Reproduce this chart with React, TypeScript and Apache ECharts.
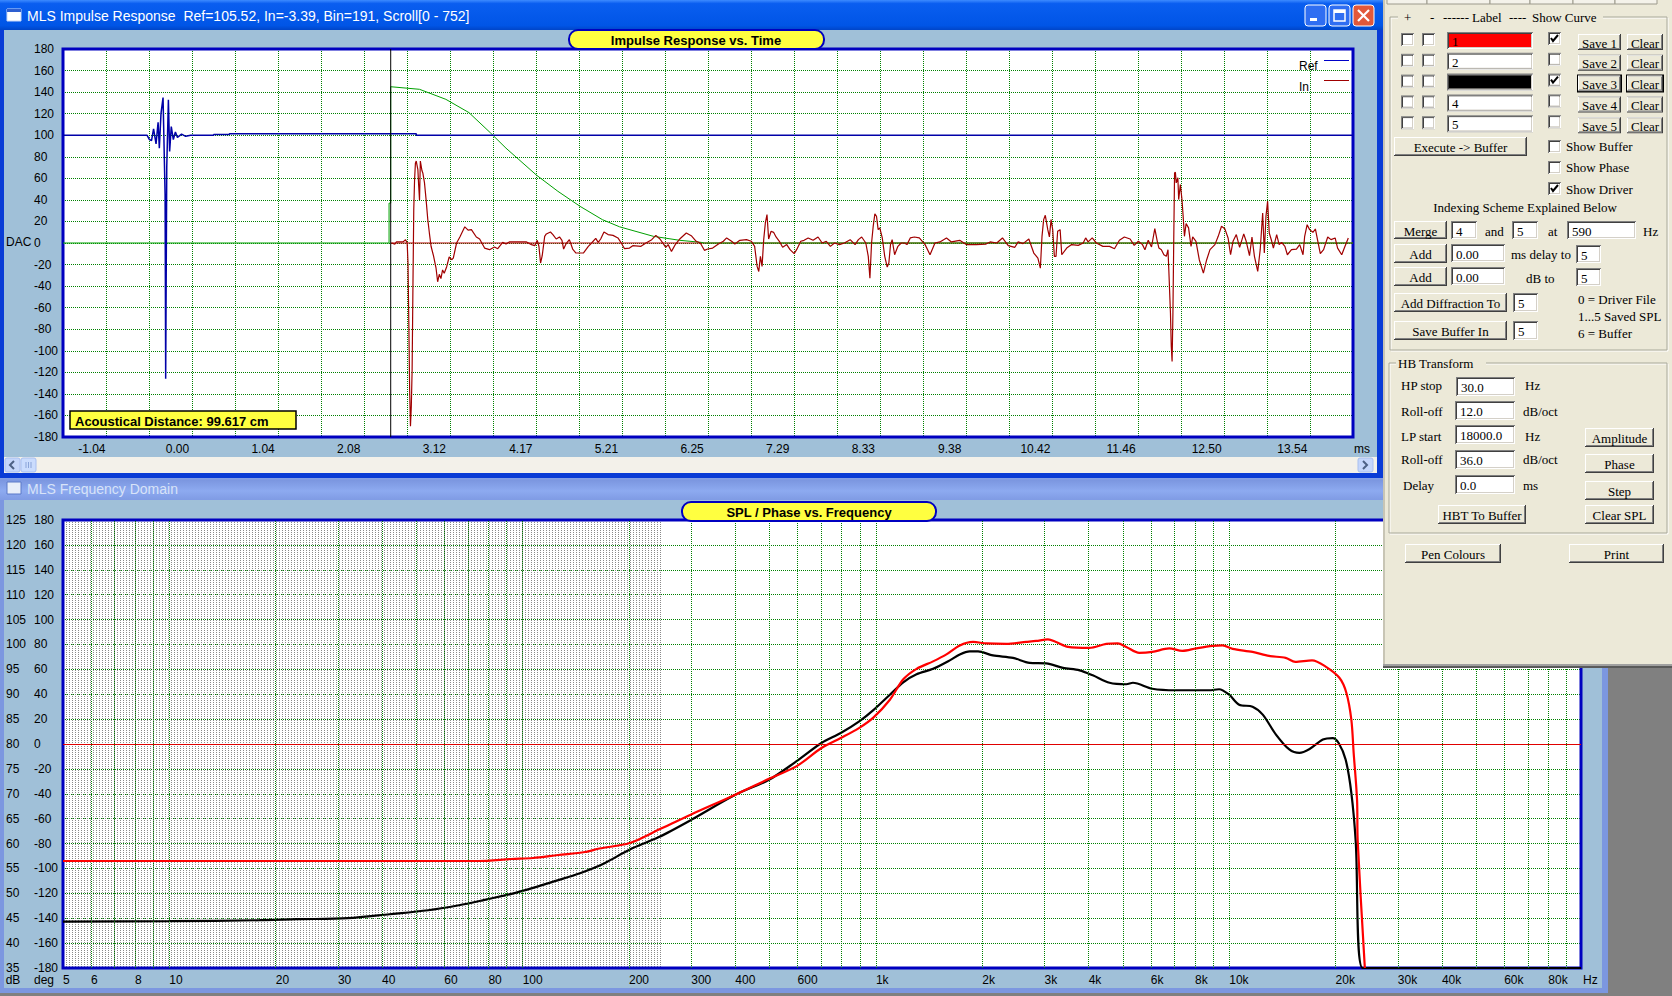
import React, { useEffect, useRef } from "react";
import * as echarts from "echarts";

const SANS = '"Liberation Sans", Arial, Helvetica, sans-serif';
const SERIF = '"Liberation Serif", "Times New Roman", serif';

// ---------------- Impulse response (time in ms, DAC units) ----------------
const timeMin = -1.39;
const timeMax = 14.277;
const impulseTicks = [-1.04, 0.0, 1.04, 2.08, 3.12, 4.17, 5.21, 6.25, 7.29, 8.33, 9.38, 10.42, 11.46, 12.5, 13.54];
const markerTime = 2.59;

const refTrace: [number, number][] = [
  [-1.39, 100], [-0.37, 100], [-0.34, 96], [-0.315, 95], [-0.29, 106], [-0.26, 92], [-0.235, 112],
  [-0.22, 88], [-0.2, 120], [-0.175, 135], [-0.15, 45], [-0.143, -126], [-0.13, 70], [-0.11, 133],
  [-0.095, 85], [-0.075, 108], [-0.05, 96], [-0.025, 103], [0.0, 98], [0.05, 101], [0.1, 99],
  [0.16, 100], [0.44, 100], [0.44, 100.7], [0.63, 100.7], [0.63, 101.4], [2.9, 101.4], [2.9, 100],
  [14.277, 100],
];

const windowTrace: [number, number][] = [
  [-1.39, 0], [2.57, 0], [2.57, 37], [2.59, 37], [2.59, 145], [2.94, 142.6], [3.26, 133.3],
  [3.54, 121], [3.8, 102.3], [3.99, 88], [4.36, 63], [4.62, 48], [4.89, 34], [5.16, 21.7],
  [5.37, 15], [5.78, 6.2], [6.1, 2.5], [6.36, 0.6], [6.4, 0], [14.277, 0],
];

const zeroTrace: [number, number][] = [[2.59, 0], [14.277, 0]];

const inTrace: [number, number][] = [
  [2.6, 0], [2.64, -1], [2.66, 1], [2.74, 1], [2.77, 3], [2.79, 0], [2.8, -18.6], [2.81, -74],
  [2.82, -136], [2.83, -170], [2.84, -152], [2.85, -118], [2.86, -40], [2.87, 31], [2.88, 59],
  [2.89, 74], [2.9, 76], [2.92, 68], [2.93, 53], [2.94, 40], [2.95, 76], [2.97, 67], [2.98, 65],
  [3.0, 56], [3.02, 40], [3.04, 22], [3.06, 9], [3.08, -3], [3.11, -12], [3.14, -23], [3.16, -36],
  [3.18, -29], [3.2, -33], [3.22, -25], [3.24, -28], [3.27, -22], [3.3, -13], [3.33, -15.5],
  [3.35, -14], [3.39, 0], [3.43, 5.6], [3.49, 15], [3.53, 12], [3.57, 12.4], [3.63, 5.6],
  [3.67, 3.7], [3.73, -4.7], [3.79, -6.2], [3.85, -3.7], [3.89, -5.3], [3.95, 0.6], [3.99, -1],
  [4.03, 1], [4.24, 1], [4.3, -1.5], [4.34, -2.5], [4.37, 2.5], [4.39, -3], [4.41, -18.6],
  [4.43, -11.8], [4.46, 6.2], [4.48, 8.4], [4.53, 10.2], [4.56, 7.8], [4.6, 3.7], [4.64, 5.6],
  [4.67, 2.5], [4.69, -5.6], [4.72, -0.6], [4.76, 3.1], [4.8, -5.6], [4.84, -9.3], [4.93, -9.3],
  [4.99, -3.1], [5.03, 0], [5.08, 4.3], [5.11, 0.6], [5.14, 3.7], [5.18, 10.2], [5.23, 7.8],
  [5.29, 7.1], [5.35, 4.7], [5.39, 0], [5.43, -5.3], [5.49, -4.7], [5.53, -2.5], [5.63, -3.1],
  [5.69, 0], [5.76, 3.1], [5.81, 7.1], [5.86, 3.7], [5.9, -0.6], [5.93, -4], [5.96, -1.5],
  [6.0, -7.8], [6.05, -1], [6.1, 3.7], [6.18, 9.3], [6.24, 6.8], [6.3, 1.6], [6.35, 0],
  [6.4, -6.8], [6.44, -5.6], [6.5, -4.7], [6.57, -1], [6.63, 1.6], [6.67, 4.7], [6.73, 1.6],
  [6.77, -1], [6.83, 2.5], [6.91, 3.1], [6.97, 1.6], [7.01, -3.1], [7.04, -21.7], [7.06, -26.4],
  [7.08, -12.4], [7.1, -21.7], [7.12, 3.1], [7.14, 18.6], [7.16, 26.4], [7.18, 3.7], [7.21, 10.9],
  [7.24, 9.9], [7.27, 5.6], [7.31, 1.6], [7.35, -4], [7.4, -1.5], [7.44, -6.2], [7.49, -9.9],
  [7.52, -6.2], [7.57, 1.6], [7.61, 2.5], [7.66, 4.7], [7.72, 2.5], [7.78, 5.6], [7.83, 0],
  [7.88, 1.6], [7.93, -3.1], [7.98, 0], [8.04, -1.5], [8.1, 0], [8.17, 3.1], [8.23, -1.5],
  [8.27, 3.1], [8.31, 5.6], [8.36, 0], [8.39, -12.4], [8.41, -32.6], [8.43, 0], [8.45, 15.5],
  [8.47, 27], [8.49, 24.8], [8.51, 12.4], [8.53, 14], [8.56, 4.7], [8.59, -12.4], [8.62, -22.3],
  [8.64, -18.6], [8.66, -1.5], [8.68, 3.1], [8.71, -10.9], [8.75, -3.1], [8.79, 0], [8.83, 0],
  [8.86, -1.5], [8.9, 4.7], [8.95, 5.6], [9.01, 4.7], [9.08, -1.5], [9.14, -10.9], [9.2, 0],
  [9.26, 1], [9.34, 4.7], [9.4, 1], [9.5, 2.5], [9.58, -1.5], [9.7, -1.5], [9.82, -1], [9.87, 1],
  [9.95, 0], [10.02, 4.7], [10.09, -2.5], [10.17, -4], [10.21, 1], [10.27, -0.6], [10.34, 3.7],
  [10.4, -9.3], [10.45, -14], [10.48, -23.3], [10.5, 6.2], [10.52, 21.7], [10.54, 25.7],
  [10.57, 12.4], [10.59, 5.6], [10.61, 21.7], [10.63, 12.4], [10.65, -12.4], [10.67, -12.4],
  [10.69, 10.9], [10.72, 12.4], [10.74, -10.9], [10.8, -4.7], [10.86, -1.5], [10.94, -2.2],
  [11.0, 0], [11.03, 4.7], [11.06, 1], [11.11, 4.7], [11.16, 0], [11.24, -3.1], [11.32, -3.1],
  [11.38, -5.3], [11.44, 2.5], [11.5, 5.6], [11.57, 3.7], [11.62, -2.2], [11.67, 1.6],
  [11.72, -1.5], [11.75, -6.2], [11.79, 2.5], [11.83, -3.7], [11.87, 13.3], [11.9, 1.6],
  [11.92, -4.7], [11.95, -6.2], [11.98, -10.9], [12.01, -12.4], [12.03, -6.2], [12.04, -24.8],
  [12.06, -65], [12.07, -96], [12.08, -110], [12.09, -65], [12.1, 3.1], [12.11, 65], [12.12, 65.7],
  [12.13, 55.8], [12.15, 60.5], [12.16, 40.3], [12.18, 54.3], [12.2, 40.3], [12.21, 29.5],
  [12.23, 6.2], [12.25, 18], [12.28, 14], [12.31, -3.1], [12.33, 5.6], [12.37, 1.6], [12.41, -15.5],
  [12.46, -27.9], [12.5, -15.5], [12.54, -6.2], [12.6, -1.5], [12.64, 6.2], [12.68, 15.5],
  [12.72, 13.3], [12.76, 4.7], [12.79, -10.9], [12.82, 1.6], [12.86, 7.8], [12.9, -4], [12.95, 8.4],
  [12.98, 1.6], [13.02, -11.8], [13.05, 5.6], [13.08, -12.4], [13.12, -26.4], [13.15, -6.2],
  [13.18, 27.9], [13.2, -9.3], [13.22, 24.8], [13.24, 38.8], [13.26, 9.3], [13.29, 1.6],
  [13.31, -4.7], [13.35, 7.8], [13.38, -1.5], [13.41, 0.6], [13.45, -3.1], [13.48, -10.9],
  [13.53, -6.2], [13.59, -5.6], [13.63, -1.5], [13.67, -10.9], [13.69, 6.2], [13.72, 17],
  [13.75, 12.4], [13.79, 9.9], [13.82, 13], [13.85, 1.6], [13.88, -9.9], [13.92, -6.2],
  [13.97, 5.6], [14.01, 3.1], [14.06, 4.7], [14.09, -4.7], [14.14, -10.9], [14.18, -3.1],
  [14.22, 4.7],
];

// ---------------- Frequency domain (Hz, dB / deg) ----------------
const freqMin = 5;
const freqMax = 99000;
const freqTicks = [5, 6, 8, 10, 20, 30, 40, 60, 80, 100, 200, 300, 400, 600, 1000, 2000, 3000, 4000, 6000, 8000, 10000, 20000, 30000, 40000, 60000, 80000];
const freqGrid = [6, 7, 8, 9, 10, 20, 30, 40, 50, 60, 70, 80, 90, 100, 200, 300, 400, 500, 600, 700, 800, 900,
  1000, 2000, 3000, 4000, 5000, 6000, 7000, 8000, 9000, 10000, 20000, 30000, 40000, 50000, 60000, 70000, 80000, 90000];
const phaseZeroDb = 80;

const splCurve1: [number, number][] = [
  [5, 56.5], [10, 56.5], [30, 56.5], [75, 56.5], [93, 56.9], [107, 57.1], [126, 57.7], [150, 58.3],
  [165, 59.0], [201, 60.1], [243, 62.8], [299, 65.8], [400, 69.8], [498, 73.0], [595, 75.5],
  [701, 79.2], [795, 81.2], [895, 83.2], [983, 85.3], [1095, 88.9], [1195, 93.0], [1303, 95.1],
  [1451, 96.6], [1583, 98.0], [1727, 99.8], [1883, 100.5], [2055, 100.2], [2337, 100.1],
  [2663, 100.5], [2842, 100.7], [3067, 101.0], [3235, 100.5], [3495, 99.5], [4020, 99.3],
  [4487, 100.1], [4835, 100.2], [5111, 99.5], [5564, 98.3], [6060, 98.5], [6762, 99.2],
  [7369, 98.7], [8060, 99.2], [8972, 99.7], [9576, 99.8], [10220, 99.1], [11640, 98.5],
  [12960, 97.7], [14440, 97.3], [15380, 96.5], [17150, 96.8], [18700, 95.6], [20500, 93.3],
  [21450, 90.3], [22160, 84.9], [22500, 78.2], [23000, 68.8], [23100, 60.5], [24200, 35],
];

const splCurve3: [number, number][] = [
  [5, 44.3], [10, 44.4], [18, 44.6], [23, 44.8], [32, 45.0], [42, 45.8], [54, 46.6], [66, 47.6],
  [76, 48.5], [93, 49.9], [107, 51.1], [124, 52.5], [146, 54.1], [170, 56.0], [201, 58.8],
  [243, 61.3], [299, 64.7], [400, 69.8], [498, 72.8], [595, 76.5], [701, 80.2], [795, 82.2],
  [899, 84.6], [983, 86.8], [1095, 89.9], [1195, 92.4], [1303, 94.0], [1451, 95.1], [1618, 96.8],
  [1727, 98.0], [1843, 98.6], [1945, 98.6], [2143, 97.8], [2443, 97.3], [2722, 96.3],
  [3033, 96.2], [3383, 95.3], [3770, 94.8], [4108, 93.8], [4585, 92.3], [5111, 92.0],
  [5337, 92.3], [6060, 91.1], [7062, 90.8], [8768, 90.8], [9360, 91.0], [9993, 89.9],
  [10670, 87.9], [11640, 87.5], [12440, 85.9], [13560, 81.9], [14790, 78.9], [15800, 78.2],
  [16880, 79.0], [18410, 80.9], [19630, 81.2], [20400, 80.2], [21350, 76.9], [22160, 70.2],
  [22800, 60.5], [23850, 35], [99000, 35],
];

// ---------------- graphic helpers ----------------
let zc = 0;
function nz(base: number) {
  zc += 1;
  return base + zc * 0.0005;
}
function rect(x: number, y: number, w: number, h: number, fill: any, base: number, extra: any = {}, r?: number) {
  const shape: any = { x, y, width: w, height: h };
  if (r) shape.r = r;
  return { type: "rect", shape, style: { fill, ...extra }, z: nz(base), silent: true };
}
function text(x: number, y: number, s: string, font: string, fill: string, align: string, base: number) {
  return {
    type: "text", x, y, z: nz(base), silent: true,
    style: { text: s, font, fill, textAlign: align, textVerticalAlign: "middle", align, verticalAlign: "middle" },
  };
}
function line(x1: number, y1: number, x2: number, y2: number, stroke: string, w: number, base: number) {
  return { type: "line", shape: { x1, y1, x2, y2 }, style: { stroke, lineWidth: w }, z: nz(base), silent: true };
}

const PZ = 20;
const pFont = `13px ${SERIF}`;
function pText(x: number, y: number, s: string, align = "left") {
  return text(x, y, s, pFont, "#000", align, PZ);
}
function button(x: number, y: number, w: number, h: number, label: string, focus = false) {
  const a: any[] = [];
  if (focus) a.push(rect(x - 1, y - 1, w + 2, h + 2, "#000", PZ));
  a.push(rect(x, y, w, h, "#404040", PZ));
  a.push(rect(x, y, w - 1, h - 1, "#ffffff", PZ));
  a.push(rect(x + 1, y + 1, w - 2, h - 2, "#808080", PZ));
  a.push(rect(x + 1, y + 1, w - 3, h - 3, "#ECE9D8", PZ));
  a.push(pText(x + w / 2, y + h / 2 + 1, label, "center"));
  return a;
}
function edit(x: number, y: number, w: number, h: number, s: string, fill = "#ffffff") {
  const a: any[] = [
    rect(x, y, w, h, "#808080", PZ),
    rect(x + 1, y + 1, w - 1, h - 1, "#ffffff", PZ),
    rect(x + 1, y + 1, w - 2, h - 2, "#404040", PZ),
    rect(x + 2, y + 2, w - 3, h - 3, "#D4D0C8", PZ),
    rect(x + 2, y + 2, w - 4, h - 4, fill, PZ),
  ];
  if (s) a.push(pText(x + 5, y + h / 2 + 1, s));
  return a;
}
function check(x: number, y: number, checked: boolean) {
  const a = edit(x, y, 13, 13, "");
  if (checked) {
    a.push({
      type: "polyline", shape: { points: [[x + 3, y + 6], [x + 5, y + 9], [x + 10, y + 3]] },
      style: { stroke: "#000", lineWidth: 2, fill: "none" }, z: nz(PZ), silent: true,
    });
  }
  return a;
}
function groupBox(x: number, y: number, w: number, h: number) {
  return [
    rect(x + 1, y + 1, w, h, "none", PZ, { stroke: "#ffffff", lineWidth: 1 }),
    rect(x, y, w, h, "none", PZ, { stroke: "#A9A89A", lineWidth: 1 }),
  ];
}

function buildGraphics() {
  const g: any[] = [];
  const CZ = -10;
  // lower window frame + title bar
  g.push(rect(0, 476, 1608, 517, "#7C97E0", CZ));
  g.push(rect(0, 477, 1608, 23, new echarts.graphic.LinearGradient(0, 0, 0, 1, [
    { offset: 0, color: "#8AA4EA" }, { offset: 0.15, color: "#7C97E0" }, { offset: 0.6, color: "#8DAAF0" }, { offset: 1, color: "#7F9BE4" },
  ]), CZ));
  g.push(rect(4, 500, 1598, 488, "#A0C0D8", CZ));
  g.push(rect(7, 482, 14, 12, "#E8EEF9", CZ, { stroke: "#5A78C8", lineWidth: 1 }));
  g.push(text(27, 489, "MLS Frequency Domain", `14px ${SANS}`, "#D8E3F8", "left", CZ));

  // upper window frame + title bar
  g.push(rect(0, 0, 1384, 478, "#0A3CD6", CZ));
  g.push(rect(0, 0, 1384, 30, new echarts.graphic.LinearGradient(0, 0, 0, 1, [
    { offset: 0, color: "#3D8BFF" }, { offset: 0.12, color: "#0A5EF0" }, { offset: 0.85, color: "#0055E6" }, { offset: 1, color: "#0045C8" },
  ]), CZ));
  g.push(rect(4, 30, 1373, 427, "#A0C0D8", CZ));
  g.push(rect(7, 9, 14, 12, "#ffffff", CZ, { stroke: "#C8D8F8", lineWidth: 1 }));
  g.push(rect(7, 9, 14, 3, "#2E5FD0", CZ));
  g.push(text(27, 16, "MLS Impulse Response  Ref=105.52, In=-3.39, Bin=191, Scroll[0 - 752]", `14px ${SANS}`, "#ffffff", "left", CZ));
  // caption buttons
  g.push(rect(1305, 5, 21, 21, "#2F6EF2", CZ, { stroke: "#ffffff", lineWidth: 1 }, 3));
  g.push(rect(1310, 18, 7, 3, "#ffffff", CZ));
  g.push(rect(1329, 5, 21, 21, "#2F6EF2", CZ, { stroke: "#ffffff", lineWidth: 1 }, 3));
  g.push(rect(1334, 10, 11, 11, "none", CZ, { stroke: "#ffffff", lineWidth: 1.5 }));
  g.push(rect(1334, 10, 11, 3, "#ffffff", CZ));
  g.push(rect(1353, 5, 21, 21, "#E2583A", CZ, { stroke: "#ffffff", lineWidth: 1 }, 3));
  g.push(line(1358, 10, 1369, 21, "#ffffff", 2.2, CZ));
  g.push(line(1369, 10, 1358, 21, "#ffffff", 2.2, CZ));
  // scrollbar
  g.push(rect(4, 457, 1373, 16, "#F3F1EA", CZ));
  g.push(rect(5, 458, 15, 14, "#C5D6FB", CZ, { stroke: "#A8BFF0", lineWidth: 1 }, 2));
  g.push({ type: "polyline", shape: { points: [[14, 461], [10, 465], [14, 469]] }, style: { stroke: "#4D6185", lineWidth: 2, fill: "none" }, z: nz(CZ), silent: true });
  g.push(rect(21, 458, 15, 14, "#CADCFD", CZ, { stroke: "#A8BFF0", lineWidth: 1 }, 2));
  g.push(line(26, 462, 26, 468, "#8AA4D8", 1, CZ));
  g.push(line(28.5, 462, 28.5, 468, "#8AA4D8", 1, CZ));
  g.push(line(31, 462, 31, 468, "#8AA4D8", 1, CZ));
  g.push(rect(1358, 458, 15, 14, "#C5D6FB", CZ, { stroke: "#A8BFF0", lineWidth: 1 }, 2));
  g.push({ type: "polyline", shape: { points: [[1363, 461], [1367, 465], [1363, 469]] }, style: { stroke: "#4D6185", lineWidth: 2, fill: "none" }, z: nz(CZ), silent: true });

  // plot borders
  g.push(rect(63, 49, 1290, 388, "none", 2, { stroke: "#0000C0", lineWidth: 3 }));
  g.push(rect(63, 520, 1518, 448, "none", 2, { stroke: "#0000C0", lineWidth: 3 }));

  // badges and overlays
  const OZ = 8;
  g.push(rect(569, 30, 255, 19, "#FFFF40", OZ, { stroke: "#0000C0", lineWidth: 2 }, 9));
  g.push(text(696, 40, "Impulse Response vs. Time", `bold 13px ${SANS}`, "#000", "center", OZ));
  g.push(rect(682, 502, 254, 19, "#FFFF40", OZ, { stroke: "#0000C0", lineWidth: 2 }, 9));
  g.push(text(809, 512, "SPL / Phase vs. Frequency", `bold 13px ${SANS}`, "#000", "center", OZ));
  g.push(rect(70, 411, 226, 18, "#FFFF40", OZ, { stroke: "#000", lineWidth: 1.5 }));
  g.push(text(75, 421, "Acoustical Distance: 99.617 cm", `bold 13px ${SANS}`, "#000", "left", OZ));
  // legend
  g.push(text(1299, 66, "Ref", `12px ${SANS}`, "#000", "left", OZ));
  g.push(line(1324, 60.5, 1349, 60.5, "#0000C8", 1, OZ));
  g.push(text(1299, 87, "In", `12px ${SANS}`, "#000", "left", OZ));
  g.push(line(1324, 80.5, 1349, 80.5, "#A00000", 1, OZ));
  // unit labels
  g.push(text(6, 242, "DAC", `12px ${SANS}`, "#000", "left", OZ));
  g.push(text(1354, 449, "ms", `12px ${SANS}`, "#000", "left", OZ));
  g.push(text(1583, 980, "Hz", `12px ${SANS}`, "#000", "left", OZ));
  g.push(text(13, 980, "dB", `12px ${SANS}`, "#000", "center", OZ));
  g.push(text(44, 980, "deg", `12px ${SANS}`, "#000", "center", OZ));

  // ---------------- right control panel ----------------
  g.push(rect(1383, 0, 289, 668, "#ECE9D8", PZ));
  g.push(rect(1383, 0, 2, 668, "#C8C5B5", PZ));
  g.push(rect(1383, 664, 289, 2, "#A0A0A0", PZ));
  g.push(rect(1383, 666, 289, 2, "#5A5A5A", PZ));
  [[1387, 1427], [1427, 1490], [1490, 1530], [1530, 1573], [1573, 1615], [1615, 1657]].forEach(([a, b]) => {
    g.push(rect(a, -4, b - a, 8, "#F4F2EA", PZ, { stroke: "#9C9A8C", lineWidth: 1 }));
  });

  g.push(...groupBox(1390, 17, 277, 333));
  g.push(rect(1398, 9, 205, 16, "#ECE9D8", PZ));
  g.push(pText(1404, 17, "+"));
  g.push(pText(1430, 17, "-"));
  g.push(pText(1443, 17, "------"));
  g.push(pText(1472, 17, "Label"));
  g.push(pText(1509, 17, "----"));
  g.push(pText(1532, 17, "Show Curve"));

  const rowLabels = ["1", "2", "", "4", "5"];
  const rowFill = ["#FF0000", "#ffffff", "#000000", "#ffffff", "#ffffff"];
  const rowShow = [true, false, true, false, false];
  for (let i = 0; i < 5; i++) {
    const y = 33 + i * 20.8;
    g.push(...check(1401, y, false));
    g.push(...check(1422, y, false));
    g.push(...edit(1447, y - 1, 86, 17, rowLabels[i], rowFill[i]));
    g.push(...check(1548, y - 1, rowShow[i]));
    g.push(...button(1578, y + 1, 43, 16, `Save ${i + 1}`, i === 2));
    g.push(...button(1627, y + 1, 36, 16, "Clear", i === 2));
  }
  g.push(...button(1394, 137, 133, 19, "Execute -> Buffer"));
  g.push(...check(1548, 140, false));
  g.push(pText(1566, 146, "Show Buffer"));
  g.push(...check(1548, 161, false));
  g.push(pText(1566, 167, "Show Phase"));
  g.push(...check(1548, 182, true));
  g.push(pText(1566, 189, "Show Driver"));
  g.push(pText(1525, 207, "Indexing Scheme Explained Below", "center"));

  g.push(...button(1394, 221, 53, 18, "Merge"));
  g.push(...edit(1451, 221, 26, 18, "4"));
  g.push(pText(1485, 231, "and"));
  g.push(...edit(1512, 221, 26, 18, "5"));
  g.push(pText(1548, 231, "at"));
  g.push(...edit(1567, 221, 69, 18, "590"));
  g.push(pText(1643, 231, "Hz"));

  g.push(...button(1394, 244, 53, 19, "Add"));
  g.push(...edit(1451, 244, 54, 18, "0.00"));
  g.push(pText(1511, 254, "ms delay to"));
  g.push(...edit(1576, 245, 25, 18, "5"));

  g.push(...button(1394, 267, 53, 19, "Add"));
  g.push(...edit(1451, 267, 54, 18, "0.00"));
  g.push(pText(1526, 278, "dB to"));
  g.push(...edit(1576, 268, 25, 18, "5"));

  g.push(...button(1394, 293, 113, 19, "Add Diffraction To"));
  g.push(...edit(1513, 293, 25, 19, "5"));
  g.push(pText(1578, 299, "0 = Driver File"));
  g.push(...button(1394, 321, 113, 19, "Save Buffer In"));
  g.push(...edit(1513, 321, 25, 19, "5"));
  g.push(pText(1578, 316, "1...5 Saved SPL"));
  g.push(pText(1578, 333, "6 = Buffer"));

  g.push(...groupBox(1389, 363, 278, 170));
  g.push(rect(1396, 355, 90, 16, "#ECE9D8", PZ));
  g.push(pText(1398, 363, "HB Transform"));
  g.push(pText(1401, 385, "HP stop"));
  g.push(...edit(1456, 377, 59, 19, "30.0"));
  g.push(pText(1525, 385, "Hz"));
  g.push(pText(1401, 411, "Roll-off"));
  g.push(...edit(1455, 401, 60, 19, "12.0"));
  g.push(pText(1523, 411, "dB/oct"));
  g.push(pText(1401, 436, "LP start"));
  g.push(...edit(1455, 425, 60, 19, "18000.0"));
  g.push(pText(1525, 436, "Hz"));
  g.push(...button(1585, 428, 69, 19, "Amplitude"));
  g.push(pText(1401, 459, "Roll-off"));
  g.push(...edit(1455, 450, 60, 19, "36.0"));
  g.push(pText(1523, 459, "dB/oct"));
  g.push(...button(1585, 454, 69, 19, "Phase"));
  g.push(pText(1403, 485, "Delay"));
  g.push(...edit(1455, 475, 60, 19, "0.0"));
  g.push(pText(1523, 485, "ms"));
  g.push(...button(1585, 481, 69, 19, "Step"));
  g.push(...button(1438, 505, 88, 19, "HBT To Buffer"));
  g.push(...button(1585, 505, 69, 19, "Clear SPL"));
  g.push(...button(1405, 544, 96, 19, "Pen Colours"));
  g.push(...button(1569, 544, 95, 19, "Print"));
  return g;
}

function buildOption() {
  const axisFont = { color: "#000", fontFamily: SANS, fontSize: 12 };
  const green = { color: "#008000", type: "dotted", width: 1 };
  const noAxis = { axisLine: { show: false }, axisTick: { show: false } };
  return {
    animation: false,
    backgroundColor: "#808080",
    textStyle: { fontFamily: SANS },
    grid: [
      { left: 63, top: 49, width: 1290, height: 388, show: true, backgroundColor: "#ffffff", borderWidth: 0 },
      { left: 63, top: 520, width: 1518, height: 448, show: true, backgroundColor: "#ffffff", borderWidth: 0 },
      { left: 63, top: 520, width: 597, height: 448, show: false },
    ],
    xAxis: [
      {
        gridIndex: 0, type: "value", position: "bottom", min: timeMin, max: timeMax, ...noAxis, splitLine: { show: false },
        axisLabel: { ...axisFont, margin: 6, customValues: impulseTicks, formatter: (v: number) => v.toFixed(2) },
      },
      {
        gridIndex: 0, type: "value", position: "bottom", min: 0, max: 30, interval: 1, ...noAxis, axisLabel: { show: false },
        splitLine: { show: true, lineStyle: green },
      },
      {
        gridIndex: 1, type: "log", position: "bottom", logBase: 10, min: freqMin, max: freqMax, ...noAxis,
        axisLabel: { show: false }, splitLine: { show: false },
      },
      {
        gridIndex: 1, type: "value", position: "bottom", min: Math.log10(freqMin), max: Math.log10(freqMax), ...noAxis,
        splitLine: { show: false },
        axisLabel: {
          ...axisFont, margin: 6, align: "left", customValues: freqTicks.map((f) => Math.log10(f)),
          formatter: (v: number) => {
            const f = Math.round(Math.pow(10, v));
            return f >= 1000 ? `${f / 1000}k` : `${f}`;
          },
        },
      },
      {
        gridIndex: 2, type: "value", position: "bottom", min: 0, max: 199, interval: 1, ...noAxis, axisLabel: { show: false },
        splitLine: { show: true, lineStyle: { color: "#8A8A8A", type: "dotted", width: 1 } },
      },
    ],
    yAxis: [
      {
        gridIndex: 0, type: "value", min: -180, max: 180, interval: 20, ...noAxis,
        axisLabel: { ...axisFont, align: "left", margin: 29 }, splitLine: { show: true, lineStyle: green },
      },
      {
        gridIndex: 1, type: "value", min: 35, max: 125, interval: 5, position: "left", ...noAxis,
        axisLabel: { ...axisFont, align: "left", margin: 57 }, splitLine: { show: true, lineStyle: green },
      },
      {
        gridIndex: 1, type: "value", min: -180, max: 180, interval: 20, position: "left", ...noAxis,
        axisLabel: { ...axisFont, align: "left", margin: 29 }, splitLine: { show: false },
      },
      { gridIndex: 2, type: "value", min: 0, max: 1, show: false },
    ],
    graphic: { elements: buildGraphics() },
    series: [
      {
        name: "zero", type: "line", xAxisIndex: 0, yAxisIndex: 0, data: zeroTrace, showSymbol: false, symbol: "none",
        lineStyle: { color: "#B00000", width: 1 }, z: 3, silent: true,
      },
      {
        name: "Window", type: "line", xAxisIndex: 0, yAxisIndex: 0, data: windowTrace, symbol: "none",
        lineStyle: { color: "#00A000", width: 1 }, z: 4, silent: true,
      },
      {
        name: "Ref", type: "line", xAxisIndex: 0, yAxisIndex: 0, data: refTrace, symbol: "none",
        lineStyle: { color: "#0000A8", width: 1.5 }, z: 5, silent: true,
      },
      {
        name: "In", type: "line", xAxisIndex: 0, yAxisIndex: 0, data: inTrace, symbol: "none",
        lineStyle: { color: "#A00000", width: 1.2 }, z: 6, silent: true,
      },
      {
        name: "marker", type: "line", xAxisIndex: 0, yAxisIndex: 0, data: [[markerTime, -180], [markerTime, 180]], symbol: "none",
        lineStyle: { color: "#000000", width: 1 }, z: 6, silent: true,
      },
      {
        name: "grid", type: "line", xAxisIndex: 2, yAxisIndex: 1, data: [[freqMin, 35]], symbol: "none",
        lineStyle: { width: 0 }, z: 1, silent: true,
        markLine: {
          silent: true, symbol: ["none", "none"], label: { show: false }, animation: false,
          lineStyle: { color: "#008000", type: "dotted", width: 1 },
          data: [
            ...freqGrid.map((f) => ({ xAxis: f })),
            { yAxis: phaseZeroDb, lineStyle: { color: "#E00000", type: "solid", width: 1 } },
          ],
        },
      },
      {
        name: "Save 3", type: "line", xAxisIndex: 2, yAxisIndex: 1, data: splCurve3, symbol: "none", smooth: 0.3,
        lineStyle: { color: "#000000", width: 2.2 }, z: 4, silent: true,
      },
      {
        name: "Save 1", type: "line", xAxisIndex: 2, yAxisIndex: 1, data: splCurve1, symbol: "none", smooth: 0.3,
        lineStyle: { color: "#FF0000", width: 2.2 }, z: 5, silent: true,
      },
    ],
  };
}

export default function App() {
  const ref = useRef<HTMLDivElement>(null);
  useEffect(() => {
    document.body.style.margin = "0";
    const chart = echarts.init(ref.current!, null, { renderer: "svg" });
    zc = 0;
    chart.setOption(buildOption() as any);
    return () => chart.dispose();
  }, []);
  return <div ref={ref} style={{ position: "fixed", left: 0, top: 0, width: 1672, height: 996 }} />;
}
